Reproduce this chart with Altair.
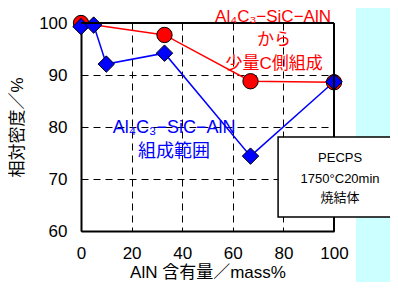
import altair as alt
import pandas as pd

# ---- data ----
red_x = [0, 33, 67, 100]
red_y = [100, 97.7, 88.8, 88.6]
blue_x = [0, 5, 10, 33, 67, 100]
blue_y = [99.3, 99.6, 92.1, 94.2, 74.4, 88.7]
x_ticks = [0, 20, 40, 60, 80, 100]
y_ticks = [60, 70, 80, 90, 100]

red_notes = ["Al₄C₃−SiC−AlN", "から", "少量C側組成"]
red_note_x = [75.9, 76.3, 76.3]
red_note_y = [101.15, 96.7, 92.1]
blue_notes = ["Al₄C₃−SiC−AlN", "組成範囲"]
blue_note_x = [36.8, 36.8]
blue_note_y = [79.8, 75.2]
box_lines = ["PECPS", "1750°C20min", "焼結体"]
box_line_x = [102.4, 102.4, 102.4]
box_line_y = [74.0, 70.0, 66.3]
box_x, box_x2 = [77.9], [127.0]
box_y, box_y2 = [78.1], [62.7]

FONT = "Liberation Sans, Noto Sans CJK JP, sans-serif"
W, H = 253, 208

red = pd.DataFrame({"x": red_x, "y": red_y})
blue = pd.DataFrame({"x": blue_x, "y": blue_y})
rnotes = pd.DataFrame({"x": red_note_x, "y": red_note_y, "t": red_notes})
bnotes = pd.DataFrame({"x": blue_note_x, "y": blue_note_y, "t": blue_notes})
blines = pd.DataFrame({"x": box_line_x, "y": box_line_y, "t": box_lines})
box = pd.DataFrame({"x": box_x, "x2": box_x2, "y": box_y, "y2": box_y2})

xs = alt.Scale(domain=[0, 100], nice=False, zero=False)
ys = alt.Scale(domain=[60, 100], nice=False, zero=False)

common_axis = dict(
    grid=True, gridDash=[7, 5], gridColor="black", gridWidth=1, gridOpacity=1,
    domainColor="black", domainWidth=2, ticks=False,
    labelFont=FONT, labelFontSize=17, labelColor="black", labelPadding=14,
    labelFlush=False, labelOverlap=False,
    titleFont=FONT, titleFontSize=17, titleFontWeight="normal", titleColor="black",
)
x_axis = alt.Axis(values=x_ticks, title="AlN 含有量／mass%", titlePadding=3, **common_axis)
y_axis = alt.Axis(values=y_ticks, title="相対密度／%", titlePadding=12, **common_axis)

X = alt.X("x:Q", scale=xs, axis=x_axis)
Y = alt.Y("y:Q", scale=ys, axis=y_axis)

one = alt.Data(values=[{}])

cyan = alt.Chart(one).mark_rect(color="#CCFFFF").encode(
    x=alt.value(275), x2=alt.value(330), y=alt.value(-40), y2=alt.value(300)
)

red_line = alt.Chart(red).mark_line(color="#FF0000", strokeWidth=1.5).encode(x=X, y=Y)
blue_line = alt.Chart(blue).mark_line(color="#0000FF", strokeWidth=1.5).encode(x=X, y=Y)
red_pts = alt.Chart(red).mark_point(
    shape="circle", filled=True, fill="#FF0000", stroke="black", strokeWidth=1, size=235, opacity=1
).encode(x=X, y=Y)
blue_pts = alt.Chart(blue).mark_point(
    shape="diamond", filled=True, fill="#0000FF", stroke="black", strokeWidth=1, size=270, opacity=1
).encode(x=X, y=Y)

frame_top = alt.Chart(one).mark_rule(color="black", strokeWidth=2).encode(
    x=alt.value(0), x2=alt.value(W), y=alt.value(0)
)
frame_right = alt.Chart(one).mark_rule(color="black", strokeWidth=2).encode(
    x=alt.value(W), y=alt.value(0), y2=alt.value(H)
)

red_text = alt.Chart(rnotes).mark_text(
    color="#FF0000", font=FONT, fontSize=17, baseline="middle", align="center"
).encode(x=X, y=Y, text="t:N")
blue_text = alt.Chart(bnotes).mark_text(
    color="#0000FF", font=FONT, fontSize=18, baseline="middle", align="center"
).encode(x=X, y=Y, text="t:N")

box_rect = alt.Chart(box).mark_rect(fill="white", stroke="black", strokeWidth=1.5).encode(
    x=X, x2="x2:Q", y=Y, y2="y2:Q"
)
box_text = alt.Chart(blines).mark_text(
    color="black", font=FONT, fontSize=13, baseline="middle", align="center"
).encode(x=X, y=Y, text="t:N")

chart = alt.layer(
    cyan, red_line, blue_line, red_pts, blue_pts, frame_top, frame_right,
    red_text, blue_text, box_rect, box_text
).properties(
    width=W, height=H,
    padding={"left": 73, "top": 15, "right": 56, "bottom": 51},
    autosize=alt.AutoSizeParams(type="none"),
    background="white",
).configure_view(stroke=None)

chart.save("out.html", embed_options={"renderer": "svg", "actions": False})
